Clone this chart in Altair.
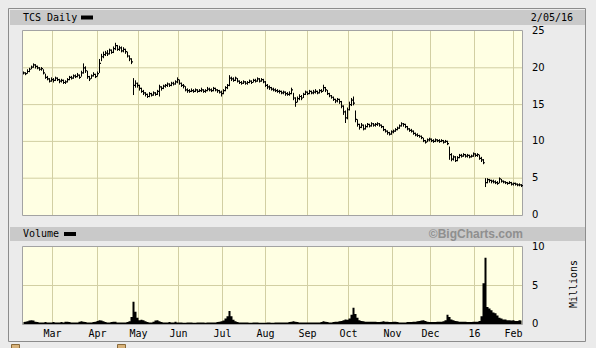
import altair as alt
import pandas as pd

# ---------------- data ----------------
close = [
    19.3, 19.2, 19.5, 19.8, 20.1, 20.4, 20.2, 20.0, 19.8, 19.9,
    19.3, 18.7, 18.5, 18.2, 18.4, 18.3, 18.6, 18.4, 18.2, 18.3,
    18.0, 18.1, 18.4, 18.7, 18.6, 18.9, 18.8, 19.0, 18.7, 19.3,
    20.0, 19.6, 18.8, 18.5, 18.9, 19.1, 18.8, 19.2, 20.6, 21.5,
    21.8, 22.0, 21.9, 22.4, 22.1, 22.6, 23.0, 22.5, 22.7, 22.3,
    22.5, 22.2, 21.6, 21.2, 20.8, 17.6, 17.9, 17.6, 17.2, 16.8,
    16.6, 16.4, 16.1, 16.5, 16.3, 16.6, 16.4, 16.8, 17.4, 17.2,
    17.5, 17.6, 17.8, 17.6, 17.9, 17.8, 18.1, 18.4, 17.9, 17.6,
    17.5, 17.0, 16.9, 16.8, 16.9, 16.8, 17.0, 16.8, 16.9, 17.0,
    16.8, 16.9, 17.1, 17.0, 16.9, 17.2, 17.0, 16.9, 16.7, 16.5,
    16.9, 17.3, 17.6, 18.6, 18.5, 18.3, 18.6, 18.2, 18.0, 17.9,
    18.1, 17.9, 18.0, 18.2, 18.0, 18.3, 18.2, 18.5, 18.2, 18.4,
    18.1, 17.6, 17.4, 17.3, 17.1, 17.0, 16.9, 16.8, 16.8, 16.6,
    16.7, 16.5, 16.4, 16.5, 17.0, 15.9, 15.3, 15.8, 16.1, 15.9,
    16.4, 16.7, 16.5, 16.8, 16.6, 16.7, 16.8, 16.6, 16.9, 16.8,
    17.3, 17.0, 16.5, 16.2, 16.0, 15.7, 15.5, 15.7, 15.4, 14.8,
    14.0, 13.2, 14.3, 15.0, 15.6, 15.2, 13.0, 12.3, 11.9, 12.2,
    11.7, 12.0, 12.3, 12.1, 12.4, 12.2, 12.3, 12.4, 12.2, 12.0,
    11.6, 11.4, 11.2, 11.0, 11.3, 11.4, 11.6, 11.8, 12.1, 12.4,
    12.3, 12.0, 11.7, 11.5, 11.4, 11.1, 10.9, 10.8, 10.7, 10.5,
    10.1, 9.9, 10.2, 10.3, 10.1, 10.0, 10.2, 10.1, 10.0, 10.1,
    9.9, 10.0, 9.7, 8.2, 7.6, 7.9, 7.4, 7.8, 8.1, 8.0,
    8.2, 8.0, 8.1, 7.9, 8.0, 8.3, 8.1, 8.2, 7.7, 7.5,
    7.1, 4.4, 4.8, 4.7, 4.6, 4.5, 4.4, 4.3, 4.9, 4.6,
    4.5, 4.4, 4.3, 4.4, 4.2, 4.3, 4.2, 4.1, 4.1, 4.0,
]
high = [
    19.5, 19.4, 19.8, 20.0, 20.3, 20.6, 20.5, 20.3, 20.1, 20.1,
    19.8, 19.2, 18.9, 18.6, 18.7, 18.6, 18.8, 18.7, 18.5, 18.5,
    18.4, 18.3, 18.6, 18.9, 18.9, 19.1, 19.1, 19.3, 19.1, 19.6,
    20.6, 20.2, 19.6, 18.9, 19.1, 19.4, 19.2, 19.5, 21.2, 21.9,
    22.2, 22.3, 22.4, 22.6, 22.5, 22.9, 23.4, 23.1, 23.0, 22.9,
    22.8, 22.6, 22.2, 21.7, 21.3, 18.6, 18.3, 18.0, 17.7, 17.3,
    17.0, 16.7, 16.5, 16.7, 16.6, 16.8, 16.7, 17.0, 17.7, 17.5,
    17.7, 17.8, 18.0, 17.9, 18.1, 18.1, 18.3, 18.7, 18.4, 18.0,
    17.8, 17.5, 17.2, 17.1, 17.2, 17.1, 17.2, 17.1, 17.1, 17.3,
    17.1, 17.1, 17.4, 17.3, 17.2, 17.4, 17.3, 17.1, 17.0, 16.9,
    17.1, 17.5, 17.8, 19.0, 18.8, 18.7, 18.8, 18.6, 18.3, 18.2,
    18.3, 18.2, 18.2, 18.4, 18.3, 18.5, 18.5, 18.7, 18.6, 18.6,
    18.5, 18.2, 17.8, 17.6, 17.4, 17.3, 17.2, 17.1, 17.0, 16.9,
    16.9, 16.8, 16.7, 16.8, 17.3, 16.6, 16.0, 16.1, 16.4, 16.3,
    16.6, 16.9, 16.8, 17.0, 16.9, 17.0, 17.1, 16.9, 17.1, 17.1,
    17.7, 17.4, 17.0, 16.6, 16.3, 16.1, 15.8, 15.9, 15.8, 15.5,
    14.9, 14.2, 14.6, 15.4, 15.9, 16.1, 14.2, 13.0, 12.4, 12.5,
    12.3, 12.3, 12.5, 12.4, 12.6, 12.5, 12.5, 12.6, 12.5, 12.3,
    12.1, 11.7, 11.5, 11.3, 11.5, 11.6, 11.8, 12.0, 12.3, 12.6,
    12.5, 12.4, 12.1, 11.8, 11.7, 11.5, 11.2, 11.1, 10.9, 10.8,
    10.5, 10.2, 10.4, 10.5, 10.4, 10.3, 10.4, 10.3, 10.3, 10.3,
    10.2, 10.2, 10.1, 9.3, 8.4, 8.1, 8.0, 8.0, 8.3, 8.3,
    8.4, 8.3, 8.3, 8.2, 8.2, 8.5, 8.4, 8.4, 8.2, 7.9,
    7.6, 5.0, 5.0, 4.9, 4.8, 4.8, 4.7, 4.6, 5.1, 4.9,
    4.7, 4.6, 4.5, 4.6, 4.5, 4.4, 4.4, 4.3, 4.3, 4.2,
]
low = [
    19.1, 19.0, 19.2, 19.4, 19.8, 20.0, 19.9, 19.8, 19.6, 19.6,
    19.1, 18.5, 18.3, 18.0, 18.1, 18.0, 18.2, 18.2, 17.9, 18.0,
    17.8, 17.8, 18.0, 18.3, 18.4, 18.5, 18.6, 18.7, 18.5, 18.8,
    19.2, 19.3, 18.5, 18.2, 18.5, 18.8, 18.6, 18.8, 19.3, 20.9,
    21.3, 21.6, 21.6, 21.8, 21.9, 22.0, 22.4, 22.3, 22.3, 22.1,
    22.1, 21.9, 21.4, 20.9, 20.5, 16.3, 17.3, 17.3, 16.9, 16.6,
    16.3, 16.1, 15.9, 16.0, 16.1, 16.2, 16.2, 16.3, 16.1, 16.9,
    17.1, 17.3, 17.4, 17.4, 17.5, 17.6, 17.7, 17.9, 17.7, 17.4,
    17.2, 16.8, 16.6, 16.6, 16.7, 16.6, 16.7, 16.6, 16.7, 16.7,
    16.6, 16.6, 16.8, 16.8, 16.7, 16.8, 16.8, 16.6, 16.5, 16.1,
    16.4, 16.8, 17.1, 17.5, 18.2, 18.1, 18.2, 18.0, 17.8, 17.7,
    17.8, 17.7, 17.7, 17.9, 17.8, 18.0, 18.0, 18.1, 18.0, 18.1,
    17.9, 17.4, 17.1, 17.0, 16.9, 16.8, 16.7, 16.6, 16.5, 16.4,
    16.4, 16.2, 16.2, 16.2, 16.4, 15.6, 14.7, 15.3, 15.6, 15.6,
    15.9, 16.3, 16.3, 16.4, 16.4, 16.4, 16.5, 16.4, 16.5, 16.6,
    16.8, 16.7, 16.3, 16.0, 15.8, 15.5, 15.2, 15.3, 15.1, 14.5,
    13.6, 12.5, 13.0, 14.2, 14.8, 14.9, 12.6, 12.0, 11.6, 11.8,
    11.5, 11.6, 11.9, 11.9, 12.0, 12.0, 12.0, 12.1, 12.0, 11.8,
    11.4, 11.2, 10.9, 10.8, 10.9, 11.1, 11.3, 11.5, 11.7, 12.0,
    12.0, 11.8, 11.5, 11.3, 11.2, 10.9, 10.7, 10.6, 10.5, 10.3,
    9.9, 9.7, 9.9, 10.0, 9.9, 9.8, 9.9, 9.9, 9.8, 9.9,
    9.7, 9.8, 9.5, 7.5, 7.3, 7.4, 7.2, 7.3, 7.7, 7.8,
    7.9, 7.8, 7.8, 7.7, 7.8, 7.9, 7.9, 7.9, 7.5, 7.2,
    6.9, 3.8, 4.3, 4.4, 4.3, 4.3, 4.2, 4.1, 4.3, 4.4,
    4.3, 4.2, 4.1, 4.2, 4.0, 4.0, 4.0, 3.9, 3.9, 3.8,
]
volume = [  # millions of shares
    0.25, 0.3, 0.35, 0.45, 0.5, 0.45, 0.3, 0.25, 0.2, 0.2,
    0.2, 0.25, 0.2, 0.2, 0.2, 0.25, 0.2, 0.2, 0.2, 0.25,
    0.2, 0.3, 0.3, 0.25, 0.2, 0.2, 0.2, 0.2, 0.3, 0.35,
    0.3, 0.25, 0.2, 0.2, 0.2, 0.25, 0.3, 0.4, 0.5, 0.45,
    0.35, 0.25, 0.2, 0.2, 0.25, 0.3, 0.3, 0.2, 0.2, 0.2,
    0.2, 0.2, 0.25, 0.35, 0.9, 2.9, 1.6, 0.8, 0.5, 0.55,
    0.5, 0.35, 0.25, 0.2, 0.2, 0.3, 0.45, 0.5, 0.35, 0.25,
    0.2, 0.2, 0.2, 0.25, 0.2, 0.2, 0.3, 0.2, 0.2, 0.2,
    0.15, 0.15, 0.2, 0.2, 0.2, 0.15, 0.15, 0.2, 0.2, 0.2,
    0.2, 0.15, 0.2, 0.2, 0.2, 0.2, 0.2, 0.25, 0.3, 0.35,
    0.45, 0.7, 1.0, 1.7, 1.0, 0.55, 0.35, 0.25, 0.2, 0.2,
    0.2, 0.2, 0.2, 0.15, 0.15, 0.2, 0.2, 0.2, 0.15, 0.15,
    0.15, 0.15, 0.2, 0.2, 0.15, 0.15, 0.2, 0.2, 0.2, 0.2,
    0.2, 0.2, 0.2, 0.25, 0.3, 0.35, 0.3, 0.25, 0.2, 0.2,
    0.2, 0.2, 0.2, 0.2, 0.2, 0.2, 0.2, 0.2, 0.2, 0.25,
    0.35, 0.3, 0.25, 0.2, 0.2, 0.25, 0.3, 0.3, 0.35, 0.4,
    0.5, 0.6, 0.55, 0.7, 1.2, 2.1, 1.3, 0.8, 0.5, 0.4,
    0.35, 0.3, 0.3, 0.3, 0.3, 0.3, 0.3, 0.25, 0.25, 0.3,
    0.35, 0.3, 0.3, 0.25, 0.25, 0.3, 0.3, 0.25, 0.2, 0.2,
    0.2, 0.2, 0.25, 0.25, 0.25, 0.3, 0.3, 0.35, 0.4, 0.45,
    0.5, 0.4, 0.3, 0.25, 0.25, 0.25, 0.25, 0.3, 0.3, 0.3,
    0.35, 0.5, 1.2, 0.9, 0.6, 0.5, 0.4, 0.35, 0.3, 0.3,
    0.3, 0.3, 0.25, 0.25, 0.25, 0.3, 0.3, 0.3, 0.4, 1.0,
    5.3, 8.6, 2.2, 2.0, 1.8, 1.5, 1.4, 1.1, 0.8, 0.7,
    0.6, 0.6, 0.5, 0.5, 0.45, 0.5, 0.4, 0.4, 0.5, 0.45,
]
month_labels = ["Mar", "Apr", "May", "Jun", "Jul", "Aug", "Sep", "Oct", "Nov", "Dec", "16", "Feb"]
month_pos = [14.5, 37, 57.5, 77.5, 99.5, 121, 142, 162.5, 184.5, 203.5, 225.5, 245]  # trading-day index
price_ticks = [0, 5, 10, 15, 20, 25]
volume_ticks = [0, 5, 10]

n = len(close)
assert len(high) == n and len(low) == n and len(volume) == n

df = pd.DataFrame({"i": list(range(n)), "close": close, "high": high, "low": low, "volume": volume})
months = pd.DataFrame({"pos": month_pos, "label": month_labels})
pt = pd.DataFrame({"v": price_ticks, "t": [str(v) for v in price_ticks]})
vt = pd.DataFrame({"v": volume_ticks, "t": [str(v) for v in volume_ticks]})
one = pd.DataFrame({"k": [0]})

# ---------------- layout / style ----------------
BG = "#ebebeb"
BAR = "#c9c9c9"
PLOT = "#ffffe3"
GRID = "#d2cfa3"
BORDER = "#a3a3a3"
MONO = "DejaVu Sans Mono"

PX0, PX1 = 22, 523
PT, PB = 31, 215
VT, VB = 247, 324

xs = alt.Scale(domain=[0, n - 1], range=[23.5, 23.5 + 2 * (n - 1)], nice=False, zero=False)
ps = alt.Scale(domain=[0, 25], range=[PB, PT], nice=False, zero=False)
vs = alt.Scale(domain=[0, 10], range=[VB, VT], nice=False, zero=False)


def box(x1, y1, x2, y2, fill, stroke=None):
    kw = dict(fill=fill)
    if stroke:
        kw.update(stroke=stroke, strokeWidth=1)
    return alt.Chart(one).mark_rect(**kw).encode(
        x=alt.value(x1), x2=alt.value(x2), y=alt.value(y1), y2=alt.value(y2))


def label(txt, x, y, align="left", size=10, font=MONO, color="black", weight="normal", angle=None):
    kw = dict(align=align, baseline="middle", fontSize=size, font=font, color=color, fontWeight=weight)
    if angle is not None:
        kw["angle"] = angle
    return alt.Chart(one).mark_text(**kw).encode(
        x=alt.value(x), y=alt.value(y), text=alt.value(txt))


layers = [
    box(8.5, 8.5, 585.5, 341.5, BG, "#8c8c8c"),
    box(10, 10, 585, 25, BAR),
    box(10, 227, 585, 241, BAR),
    box(22.5, 30.5, 522.5, 215.5, PLOT, BORDER),
    box(22.5, 246.5, 522.5, 324.5, PLOT, BORDER),
    box(11.5, 344.5, 19.5, 352, "#d7b27a", "#8a6a3a"),
    box(117.5, 344.5, 125.5, 352, "#d7b27a", "#8a6a3a"),
    # vertical month grid lines
    alt.Chart(months).mark_rule(color=GRID, strokeWidth=1).encode(
        x=alt.X("pos:Q", scale=xs, axis=None), y=alt.value(PT), y2=alt.value(PB)),
    alt.Chart(months).mark_rule(color=GRID, strokeWidth=1).encode(
        x=alt.X("pos:Q", scale=xs, axis=None), y=alt.value(VT), y2=alt.value(VB)),
    # horizontal grid lines
    alt.Chart(pt[(pt.v > 0) & (pt.v < 25)]).mark_rule(color=GRID, strokeWidth=1).encode(
        y=alt.Y("v:Q", scale=ps, axis=None), x=alt.value(PX0 + 1), x2=alt.value(PX1 - 1)),
    alt.Chart(vt[(vt.v > 0) & (vt.v < 10)]).mark_rule(color=GRID, strokeWidth=1).encode(
        y=alt.Y("v:Q", scale=vs, axis=None), x=alt.value(PX0 + 1), x2=alt.value(PX1 - 1)),
    # price bars: high-low
    alt.Chart(df).mark_rule(color="black", strokeWidth=1).encode(
        x=alt.X("i:Q", scale=xs, axis=None),
        y=alt.Y("low:Q", scale=ps, axis=None), y2="high:Q"),
    # close ticks
    alt.Chart(df).transform_calculate(cr="datum.i + 0.75").mark_rule(color="black", strokeWidth=1.2).encode(
        x=alt.X("i:Q", scale=xs, axis=None), x2="cr:Q",
        y=alt.Y("close:Q", scale=ps, axis=None)),
    # volume
    alt.Chart(df).mark_area(color="black", interpolate="step").encode(
        x=alt.X("i:Q", scale=xs, axis=None),
        y=alt.Y("volume:Q", scale=vs, axis=None)),
    # month labels
    alt.Chart(months).mark_text(font=MONO, fontSize=10, baseline="middle", align="center", color="black").encode(
        x=alt.X("pos:Q", scale=xs, axis=None), y=alt.value(334), text="label:N"),
    # price axis labels
    alt.Chart(pt).mark_text(font="DejaVu Sans", fontSize=10, baseline="middle", align="left", color="black").encode(
        y=alt.Y("v:Q", scale=ps, axis=None), x=alt.value(532), text="t:N"),
    # volume axis labels
    alt.Chart(vt).mark_text(font="DejaVu Sans", fontSize=10, baseline="middle", align="left", color="black").encode(
        y=alt.Y("v:Q", scale=vs, axis=None), x=alt.value(532), text="t:N"),
    # header texts
    label("TCS Daily", 23, 17.5),
    box(81, 15.5, 93, 19.5, "black"),
    label("2/05/16", 573, 17.5, align="right"),
    label("Volume", 23, 234),
    box(64, 232, 76, 236, "black"),
    label("\u00a9BigCharts.com", 523, 234, align="right", size=12, font="Liberation Sans",
          color="#8f8f8f", weight="bold"),
    label("Millions", 574, 284, align="center", angle=270),
]

chart = alt.layer(*layers).resolve_scale(y="independent").properties(
    width=596, height=348,
    autosize=alt.AutoSizeParams(type="none"),
    padding=0,
    background=BG,
).configure_view(stroke=None, fill=BG)

chart.save("out.html", embed_options={"renderer": "svg", "actions": False})
